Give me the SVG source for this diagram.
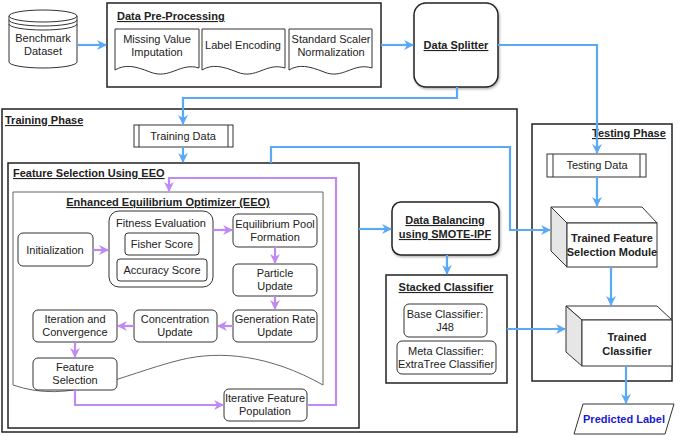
<svg xmlns="http://www.w3.org/2000/svg" width="685" height="436" viewBox="0 0 685 436">
<defs>
<marker id="ab" viewBox="0 0 10 10" refX="9" refY="5" markerWidth="4.5" markerHeight="4.5" orient="auto"><path d="M0,0 L10,5 L0,10 L3,5 z" fill="#5aa9f7"/></marker>
<marker id="ap" viewBox="0 0 10 10" refX="9" refY="5" markerWidth="4.5" markerHeight="4.5" orient="auto"><path d="M0,0 L10,5 L0,10 L3,5 z" fill="#c08af5"/></marker>
<filter id="sh" x="-10%" y="-10%" width="130%" height="130%"><feDropShadow dx="1" dy="1.5" stdDeviation="1" flood-opacity="0.3"/></filter>
</defs>
<style>
text{font-family:"Liberation Sans",Arial,sans-serif;font-size:11px;fill:#222;text-anchor:middle}
.t{font-weight:bold;text-decoration:underline;text-anchor:start}
.b{font-weight:bold}
.box{fill:#fff;stroke:#222;stroke-width:1.5}
.n{fill:#fff;stroke:#333;stroke-width:1}
.bl{fill:none;stroke:#5aa9f7;stroke-width:2.2;marker-end:url(#ab)}
.pu{fill:none;stroke:#c08af5;stroke-width:2.2;marker-end:url(#ap)}
</style>
<rect width="685" height="436" fill="#fff"/>

<g id="containers">
<rect class="box" x="2" y="109" width="515" height="323"/>
<text class="t" x="5" y="124">Training Phase</text>
<rect class="box" x="8" y="163" width="351" height="265"/>
<text class="t" x="13" y="177">Feature Selection Using EEO</text>
<path d="M13,192 H323 V385 C270,355 220,350 180,360 C120,375 70,405 13,385 Z" fill="#fff" stroke="#666" stroke-width="1"/>
<text class="b" style="text-decoration:underline" x="168" y="206">Enhanced Equilibrium Optimizer (EEO)</text>
<rect class="box" x="532" y="124" width="140" height="257"/>
<text class="t" x="592" y="137">Testing Phase</text>
</g>

<g id="benchmark">
<path d="M9,16 V62 A34,6 0 0 0 77,62 V16" class="n"/>
<ellipse cx="43" cy="16" rx="34" ry="6" class="n"/>
<path d="M9,20 A34,6 0 0 0 77,20 M9,24 A34,6 0 0 0 77,24" fill="none" stroke="#333"/>
<text x="43" y="42">Benchmark</text><text x="43" y="55">Dataset</text>
</g>

<g id="preprocessing">
<rect class="box" x="107" y="3" width="274" height="84"/>
<text class="t" x="117" y="20">Data Pre-Processing</text>
<path class="n" d="M115,29 H199 V68 C180,62 170,80 150,72 C135,66 125,64 115,70 Z"/>
<text x="157" y="43">Missing Value</text><text x="157" y="56">Imputation</text>
<path class="n" d="M202,29 H285 V68 C266,62 256,80 237,72 C222,66 212,64 202,70 Z"/>
<text x="243" y="49">Label Encoding</text>
<path class="n" d="M289,29 H372 V68 C353,62 343,80 324,72 C309,66 299,64 289,70 Z"/>
<text x="331" y="43">Standard Scaler</text><text x="331" y="56">Normalization</text>
</g>

<g id="splitter">
<rect class="box" x="414" y="3" width="84" height="84" rx="12" filter="url(#sh)"/>
<text class="b" style="text-decoration:underline" x="456" y="49">Data Splitter</text>
</g>

<g id="trainingdata">
<rect class="n" x="134" y="125" width="99" height="22"/>
<path d="M139,125 V147 M228,125 V147" stroke="#333"/>
<text x="183" y="140">Training Data</text>
</g>

<g id="eeo-nodes">
<rect class="n" x="18" y="233" width="75" height="33" rx="5"/><text x="55" y="254">Initialization</text>
<rect class="n" x="109" y="211" width="104" height="76" rx="10"/><text x="161" y="227">Fitness Evaluation</text>
<rect class="n" x="125" y="233" width="74" height="22" rx="3" stroke-width="2.5"/><rect x="127" y="235" width="70" height="18" fill="none" stroke="#fff" stroke-width="0.8"/><text x="162" y="248">Fisher Score</text>
<rect class="n" x="117" y="259" width="90" height="22" rx="3" stroke-width="2.5"/><rect x="119" y="261" width="86" height="18" fill="none" stroke="#fff" stroke-width="0.8"/><text x="162" y="274">Accuracy Score</text>
<rect class="n" x="233" y="214" width="84" height="33" rx="5"/><text x="275" y="228">Equilibrium Pool</text><text x="275" y="241">Formation</text>
<rect class="n" x="233" y="264" width="84" height="32" rx="5"/><text x="275" y="277">Particle</text><text x="275" y="290">Update</text>
<rect class="n" x="233" y="310" width="84" height="32" rx="5"/><text x="275" y="323">Generation Rate</text><text x="275" y="336">Update</text>
<rect class="n" x="134" y="310" width="83" height="32" rx="5"/><text x="175" y="323">Concentration</text><text x="175" y="336">Update</text>
<rect class="n" x="33" y="310" width="84" height="32" rx="5"/><text x="75" y="323">Iteration and</text><text x="75" y="336">Convergence</text>
<rect class="n" x="33" y="358" width="84" height="32" rx="5"/><text x="75" y="371">Feature</text><text x="75" y="384">Selection</text>
<rect class="n" x="224" y="389" width="83" height="32" rx="5"/><text x="265" y="402">Iterative Feature</text><text x="265" y="415">Population</text>
</g>

<g id="balancing">
<rect class="box" x="392" y="202" width="107" height="53" rx="9" filter="url(#sh)"/>
<text class="b" style="text-decoration:underline" x="445" y="224">Data Balancing</text>
<text class="b" style="text-decoration:underline" x="445" y="238">using SMOTE-IPF</text>
</g>

<g id="stacked">
<rect class="box" x="386" y="275" width="121" height="108"/>
<text class="b" style="text-decoration:underline" x="446" y="291">Stacked Classifier</text>
<rect class="n" x="404" y="304" width="83" height="33" rx="5"/><text x="445" y="318">Base Classifier:</text><text x="445" y="331">J48</text>
<rect class="n" x="397" y="341" width="99" height="33" rx="5"/><text x="446" y="355">Meta Classifier:</text><text x="446" y="368">ExtraTree Classifier</text>
</g>

<g id="testingdata">
<rect class="n" x="547" y="154" width="99" height="23"/>
<path d="M553,154 V177 M640,154 V177" stroke="#333"/>
<text x="597" y="169">Testing Data</text>
</g>

<g id="trainedfs">
<path d="M551,207 H642 L657,223 H567 Z" fill="#fff" stroke="#333"/>
<path d="M551,207 L567,223 V267 L551,251 Z" fill="#e6e6e6" stroke="#333"/>
<rect class="n" x="567" y="223" width="90" height="44"/>
<text class="b" x="612" y="242">Trained Feature</text><text class="b" x="612" y="256">Selection Module</text>
</g>

<g id="trainedclf">
<path d="M566,306 H657 L672,320 H582 Z" fill="#fff" stroke="#333"/>
<path d="M566,306 L582,320 V366 L566,352 Z" fill="#e6e6e6" stroke="#333"/>
<rect class="n" x="582" y="320" width="90" height="46"/>
<text class="b" x="627" y="341">Trained</text><text class="b" x="627" y="355">Classifier</text>
</g>

<g id="predicted">
<path d="M583,404 H674 L665,434 H574 Z" class="n"/>
<text class="b" x="624" y="423" style="fill:#1a1ad0">Predicted Label</text>
</g>

<g id="connectors">
<path class="bl" d="M77,45 H106"/>
<path class="bl" d="M381,45 H413"/>
<path class="bl" d="M498,45 H597 V153"/>
<path class="bl" d="M457,87 V98 H183 V124"/>
<path class="bl" d="M183,147 V162"/>
<path class="bl" d="M271,163 V147 H510 V230 H550"/>
<path class="bl" d="M359,229 H391"/>
<path class="bl" d="M447,255 V274"/>
<path class="bl" d="M507,329 H565"/>
<path class="bl" d="M597,177 V206"/>
<path class="bl" d="M611,267 V305"/>
<path class="bl" d="M626,366 V403"/>
<path class="pu" d="M93,250 H108"/>
<path class="pu" d="M213,230 H232"/>
<path class="pu" d="M275,247 V263"/>
<path class="pu" d="M275,296 V309"/>
<path class="pu" d="M233,326 H218"/>
<path class="pu" d="M134,326 H118"/>
<path class="pu" d="M75,342 V357"/>
<path class="pu" d="M75,390 V405 H223"/>
<path class="pu" d="M307,405 H336 V178 H169 V191"/>
</g>
</svg>
